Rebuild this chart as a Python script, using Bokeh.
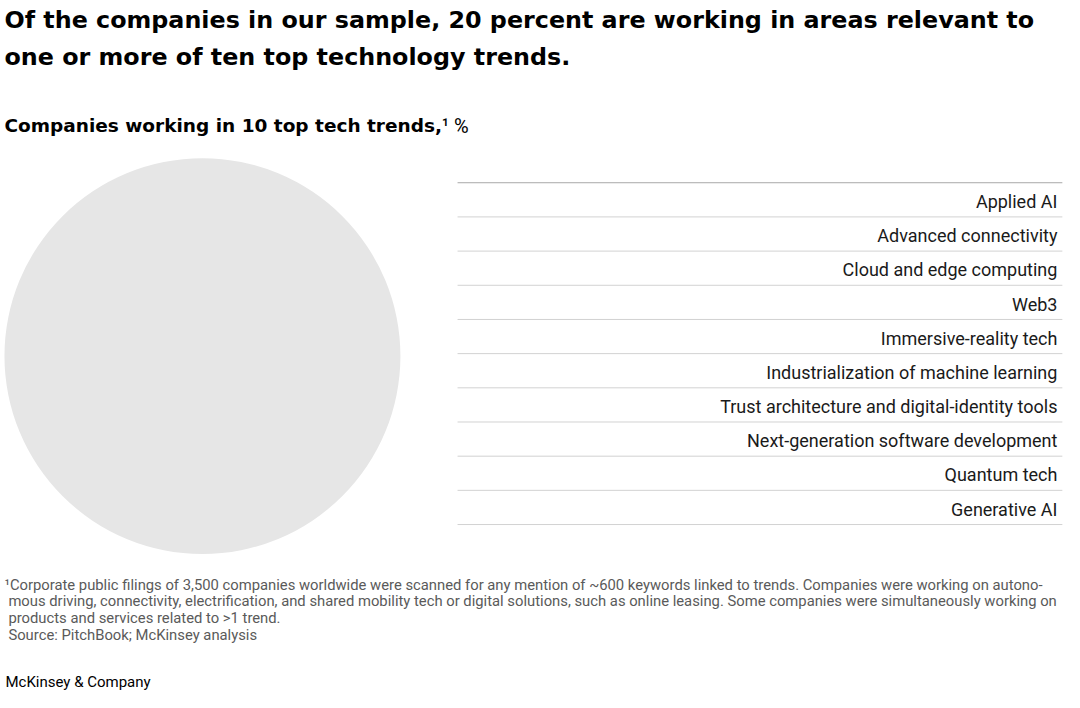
from bokeh.plotting import figure
from bokeh.models import Range1d, ColumnDataSource, Label
from bokeh.core.properties import value
from bokeh.embed import file_html
from bokeh.resources import INLINE

# ---------------- data ----------------
title_lines = [
    "Of the companies in our sample, 20 percent are working in areas relevant to",
    "one or more of ten top technology trends.",
]
subtitle = "Companies working in 10 top tech trends,"
subtitle_unit = "\u00b9 %"
trends = [
    "Applied AI",
    "Advanced connectivity",
    "Cloud and edge computing",
    "Web3",
    "Immersive-reality tech",
    "Industrialization of machine learning",
    "Trust architecture and digital-identity tools",
    "Next-generation software development",
    "Quantum tech",
    "Generative AI",
]
sample_label = ["All companies in sample"]
sample_share = [100]
footnote_lines = [
    "\u00b9Corporate public filings of 3,500 companies worldwide were scanned for any mention of ~600 keywords linked to trends. Companies were working on autono-",
    "mous driving, connectivity, electrification, and shared mobility tech or digital solutions, such as online leasing. Some companies were simultaneously working on",
    "products and services related to >1 trend.",
    "Source: PitchBook; McKinsey analysis",
]
brand = "McKinsey & Company"

# ---------------- layout helpers (reference px -> figure px) ----------------
W, H = 1064, 692


def X(r):
    return r * 0.985 + 1


def Y(r):
    return r * 0.985 + 1


TITLE_FONT = "DejaVu Sans"
FONT = "Roboto"
p = figure(width=W, height=H, x_range=Range1d(0, W), y_range=Range1d(H, 0),
           output_backend="svg", toolbar_location=None, min_border=0)
p.axis.visible = False
p.grid.visible = False
p.outline_line_color = None
p.background_fill_color = "white"
p.border_fill_color = "white"

# circle (sample)
cs = ColumnDataSource(dict(x=[X(204)], y=[Y(360)], r=[X(204) - X(3)], label=sample_label, share=sample_share))
p.circle(x="x", y="y", radius="r", source=cs, fill_color="#e6e6e6", line_color=None)

# rows
n = len(trends)
row_top = Y(184)
row_h = (Y(531) - Y(184)) / n
xl0, xl1 = X(463), X(1077)
ys = [row_top + i * row_h for i in range(n + 1)]
p.segment(x0=[xl0], x1=[xl1], y0=[ys[0]], y1=[ys[0]], line_color="#a8a8a8", line_width=1)
p.segment(x0=[xl0] * n, x1=[xl1] * n, y0=ys[1:], y1=ys[1:], line_color="#d2d2d2", line_width=1)

ts = ColumnDataSource(dict(x=[X(1072)] * n, y=[row_top + (i + 0.55) * row_h for i in range(n)], t=trends))
p.text(x="x", y="y", text="t", source=ts, text_font=value(FONT), text_font_size="18px",
       text_color="#1a1a1a", text_align="right", text_baseline="middle")

# titles
for i, line in enumerate(title_lines):
    p.add_layout(Label(x=X(3), y=Y(19 + 37 * i), text=line, text_font=TITLE_FONT, text_font_size="23.8px",
                       text_font_style="bold", text_color="#000000", text_baseline="middle"))
p.add_layout(Label(x=X(3), y=Y(126), text=subtitle, text_font=TITLE_FONT, text_font_size="18.5px",
                   text_font_style="bold", text_color="#000000", text_baseline="middle"))
p.add_layout(Label(x=X(447), y=Y(126), text=subtitle_unit, text_font=FONT, text_font_size="20px",
                   text_color="#000000", text_baseline="middle"))

# footnotes
for i, line in enumerate(footnote_lines):
    p.add_layout(Label(x=X(3 if i == 0 else 7), y=Y(592 + 17 * i), text=line, text_font=FONT,
                       text_font_size="14.8px", text_color="#5a5a5a", text_baseline="middle"))
p.add_layout(Label(x=X(4), y=Y(691), text=brand, text_font=FONT, text_font_size="15px",
                   text_color="#000000", text_baseline="middle"))

open("out.html", "w").write(file_html(p, INLINE))
